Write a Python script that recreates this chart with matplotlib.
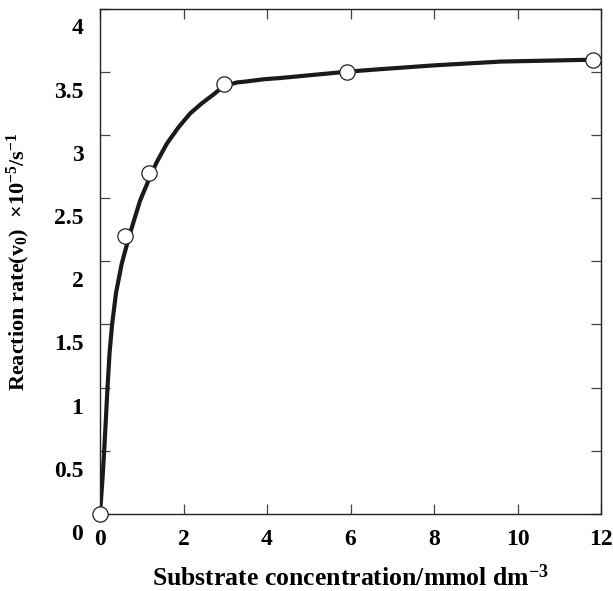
import matplotlib
matplotlib.use('Agg')
import matplotlib.pyplot as plt
import matplotlib.transforms as mtransforms

plt.rcParams['font.family'] = 'Liberation Serif'
plt.rcParams['font.weight'] = 'bold'
plt.rcParams['mathtext.fontset'] = 'custom'
plt.rcParams['mathtext.rm'] = 'Liberation Serif:bold'
plt.rcParams['mathtext.it'] = 'Liberation Serif:bold'
plt.rcParams['mathtext.bf'] = 'Liberation Serif:bold'
plt.rcParams['mathtext.default'] = 'rm'

# measured points
conc = [0.0, 0.6, 1.18, 2.96, 5.92, 11.82]
rate = [0.0, 2.2, 2.70, 3.40, 3.50, 3.595]

# fitted curve
curve_x = [0, 0.064, 0.1, 0.136, 0.18, 0.23, 0.29, 0.384, 0.52, 0.7, 0.96,
           1.24, 1.36, 1.6, 1.88, 2.16, 2.44, 2.72, 2.96, 3.28, 3.44, 3.92,
           4.32, 5.12, 5.92, 6.72, 8.0, 9.6, 11.82]
curve_y = [0, 0.3, 0.5, 0.72, 1.0, 1.28, 1.5, 1.75, 1.98, 2.2, 2.48,
           2.7, 2.785, 2.93, 3.06, 3.17, 3.25, 3.32, 3.385, 3.415, 3.42, 3.44,
           3.45, 3.475, 3.50, 3.52, 3.55, 3.58, 3.595]

xticks = [0, 2, 4, 6, 8, 10, 12]
yticks = [0, 0.5, 1, 1.5, 2, 2.5, 3, 3.5, 4]
ytick_labels = ['0', '0.5', '1', '1.5', '2', '2.5', '3', '3.5', '4']

fig = plt.figure(figsize=(6.13, 5.91), dpi=100)
ax = fig.add_axes([100/613, 1 - 514/591, 501/613, 505.5/591])

ax.plot(curve_x, curve_y, color='#1a1a1a', lw=3.0, solid_capstyle='round',
        solid_joinstyle='round', zorder=2)
ax.plot(conc, rate, ls='none', marker='o', ms=11, mfc='white', mec='#222222',
        mew=0.9, zorder=3, clip_on=False)

ax.set_xlim(0, 12)
ax.set_ylim(0, 4)
ax.set_xticks(xticks)
ax.set_yticks(yticks)
ax.set_yticklabels(ytick_labels)

ax.tick_params(direction='in', top=True, right=True, length=7, width=0.9,
               color='#444444', labelsize=17)
ax.tick_params(axis='x', pad=11)
ax.tick_params(axis='y', pad=12)
for s in ax.spines.values():
    s.set_linewidth(1.0)
    s.set_color('#222222')

# y tick labels sit a bit below their ticks in the original
shift = mtransforms.ScaledTranslation(0, -18/100, fig.dpi_scale_trans)
for lab in ax.get_yticklabels():
    lab.set_transform(lab.get_transform() + shift)

ax.set_ylabel(r'Reaction rate(v$_0$)  $\times$10$^{-5}$/s$^{-1}$', fontsize=16,
              fontweight='bold', va='center')
ax.yaxis.set_label_coords(-82/501, 0.5)
ax.set_xlabel(r'Substrate concentration/mmol dm$^{-3}$', fontsize=18.5,
              fontweight='bold', va='center')
ax.xaxis.set_label_coords(0.5, -(578-514)/505.5)

fig.savefig('out.png', dpi=100)
